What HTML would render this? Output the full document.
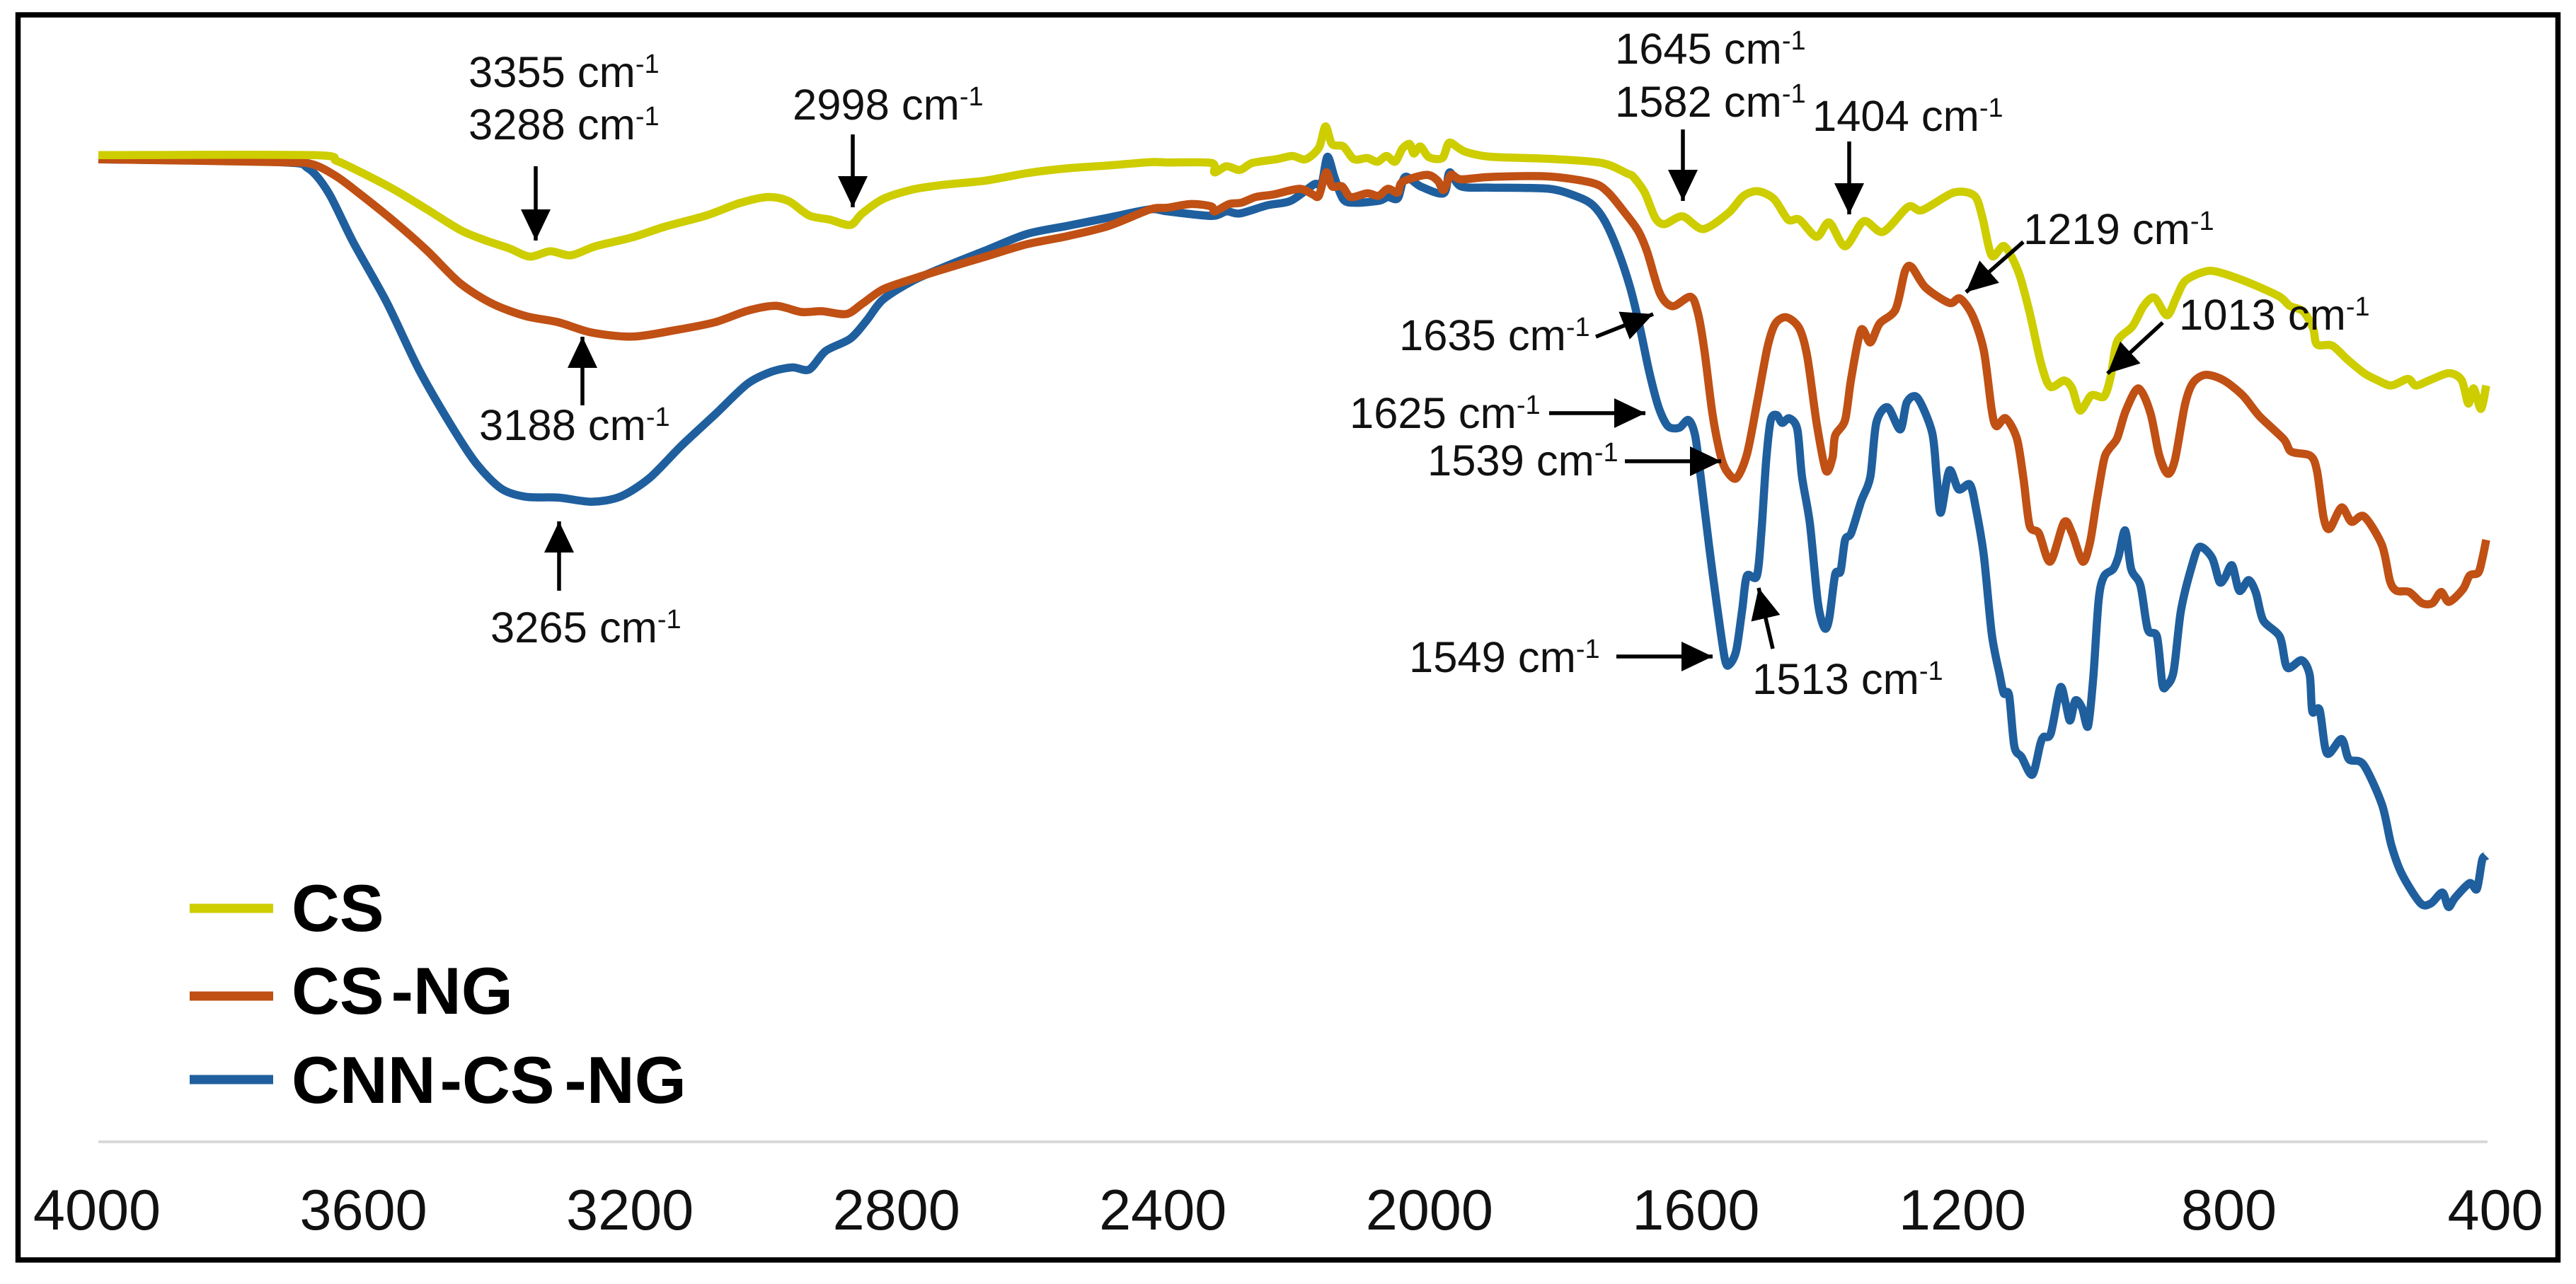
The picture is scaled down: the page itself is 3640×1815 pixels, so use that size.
<!DOCTYPE html>
<html lang="en">
<head>
<meta charset="utf-8">
<title>FTIR spectra of CS, CS-NG and CNN-CS-NG</title>
<style>
html,body{margin:0;padding:0;background:#fff;}
svg{display:block;}
text{font-family:"Liberation Sans",Arial,sans-serif;fill:#111;}
.ann{font-size:61.5px;}
.ann tspan.sup{font-size:38px;}
.tick{font-size:81px;text-anchor:middle;}
.leg{font-size:94px;font-weight:bold;fill:#000;}
.arrow{stroke:#000;stroke-width:5.5;fill:none;marker-end:url(#head);}
</style>
</head>
<body>
<svg id="chart" xmlns="http://www.w3.org/2000/svg" width="3640" height="1815" viewBox="0 0 3640 1815">
<defs>
<marker id="head" markerUnits="userSpaceOnUse" markerWidth="50" markerHeight="44" refX="44" refY="22" orient="auto">
<path d="M0,1 L44,22 L0,43 Z" fill="#000"/>
</marker>
</defs>
<rect x="0" y="0" width="3640" height="1815" fill="#fff"/>
<rect x="25.5" y="21" width="3589" height="1760" fill="none" stroke="#000" stroke-width="7.5"/>
<g id="axis-layer"></g>
<g id="series-layer"></g>

<g>
<g><text class="ann" x="662" y="123">3355 cm<tspan class="sup" dy="-20">-1</tspan></text></g>
<g><text class="ann" x="662" y="197">3288 cm<tspan class="sup" dy="-20">-1</tspan></text><line class="arrow" x1="757" y1="235" x2="757" y2="340"/></g>
<g><text class="ann" x="1120" y="169">2998 cm<tspan class="sup" dy="-20">-1</tspan></text><line class="arrow" x1="1205" y1="190" x2="1205" y2="293"/></g>
<g><text class="ann" x="677" y="622">3188 cm<tspan class="sup" dy="-20">-1</tspan></text><line class="arrow" x1="823" y1="573" x2="823" y2="476"/></g>
<g><text class="ann" x="693" y="908">3265 cm<tspan class="sup" dy="-20">-1</tspan></text><line class="arrow" x1="790" y1="835" x2="790" y2="737"/></g>
<g><text class="ann" x="2282" y="90">1645 cm<tspan class="sup" dy="-20">-1</tspan></text></g>
<g><text class="ann" x="2282" y="165">1582 cm<tspan class="sup" dy="-20">-1</tspan></text><line class="arrow" x1="2378" y1="183" x2="2378" y2="284"/></g>
<g><text class="ann" x="2561" y="185">1404 cm<tspan class="sup" dy="-20">-1</tspan></text><line class="arrow" x1="2613" y1="200" x2="2613" y2="303"/></g>
<g><text class="ann" x="2859" y="345">1219 cm<tspan class="sup" dy="-20">-1</tspan></text><line class="arrow" x1="2859" y1="342" x2="2778" y2="413"/></g>
<g><text class="ann" x="3079" y="466">1013 cm<tspan class="sup" dy="-20">-1</tspan></text><line class="arrow" x1="3056" y1="456" x2="2978" y2="528"/></g>
<g><text class="ann" x="1977" y="495">1635 cm<tspan class="sup" dy="-20">-1</tspan></text><line class="arrow" x1="2255" y1="476" x2="2336" y2="444"/></g>
<g><text class="ann" x="1907" y="605">1625 cm<tspan class="sup" dy="-20">-1</tspan></text><line class="arrow" x1="2189" y1="584" x2="2325" y2="584"/></g>
<g><text class="ann" x="2017" y="672">1539 cm<tspan class="sup" dy="-20">-1</tspan></text><line class="arrow" x1="2296" y1="652" x2="2432" y2="652"/></g>
<g><text class="ann" x="1991" y="950">1549 cm<tspan class="sup" dy="-20">-1</tspan></text><line class="arrow" x1="2284" y1="928" x2="2420" y2="928"/></g>
<g><text class="ann" x="2476" y="981">1513 cm<tspan class="sup" dy="-20">-1</tspan></text><line class="arrow" x1="2505" y1="917" x2="2485" y2="831"/></g>
</g>

<g>
<g>
<line x1="268" y1="1284" x2="386" y2="1284" stroke="#cdcd00" stroke-width="13"/>
<text class="leg" x="412" y="1316">CS</text>
</g>
<g>
<line x1="268" y1="1408" x2="386" y2="1408" stroke="#c05014" stroke-width="13"/>
<text class="leg" x="412" y="1433">CS<tspan dx="10">-NG</tspan></text>
</g>
<g>
<line x1="268" y1="1526" x2="386" y2="1526" stroke="#1f5f9e" stroke-width="13"/>
<text class="leg" x="412" y="1559">CNN<tspan dx="6">-CS</tspan><tspan dx="14">-NG</tspan></text>
</g>
</g>
</svg>

<script>
var tickValues = [4000, 3600, 3200, 2800, 2400, 2000, 1600, 1200, 800, 400];

var csWavenumbers = [
4000,3678,3641,3604,3554,3505,3455,3418,3381,3350,3319,3288,3251,3195,3146,3084,3034,2991,2960,2929,2898,2867,2849,2818,2774,2725,2663,2601,2539,2477,2415,
2389,2323,2318,2300,2280,2261,2225,2201,2181,2161,2151,2141,2124,2108,2088,2073,2059,2046,2035,2024,2018,2008,1995,1975,1965,1951,1938,1902,1814,1735,1696,
1687,1670,1654,1640,1613,1582,1544,1521,1499,1475,1454,1437,1411,1392,1368,1340,1311,1273,1252,1204,1173,1161,1147,1128,1107,1090,1073,1059,1038,
1026,1014,997,978,968,958,935,918,902,883,869,856,831,810,765,715,698,678,663,657,634,611,586,566,545,520,508,487,458,439,429,421,410,402];
var csValues = [
2403,2403,2389,2361,2319,2271,2221,2196,2176,2156,2169,2159,2181,2203,2229,2256,2286,2301,2291,2256,2246,2233,2261,2296,2319,2331,2341,2359,2371,2378,2386,
2385,2384,2361,2376,2367,2384,2393,2401,2393,2421,2473,2430,2424,2393,2396,2387,2401,2387,2419,2430,2407,2424,2398,2396,2433,2421,2410,2399,2394,2384,2358,
2350,2312,2250,2235,2254,2223,2262,2304,2315,2296,2246,2246,2204,2239,2181,2242,2216,2277,2269,2312,2304,2250,2158,2181,2119,2020,1897,1839,1854,
1835,1781,1818,1815,1862,1949,1986,2036,2056,2013,2056,2096,2117,2120,2096,2060,2036,2023,1982,1942,1939,1905,1872,1855,1842,1858,1842,1855,1872,1855,1798,1835,1785,1842];

var csNgWavenumbers = [
4000,3727,3678,3641,3604,3554,3505,3455,3406,3356,3307,3257,3195,3133,3071,3022,2979,2941,2910,2873,2849,2818,2774,2725,2663,2601,2539,2477,2415,
2389,2353,2323,2318,2296,2278,2256,2230,2190,2170,2161,2150,2141,2126,2113,2088,2071,2057,2042,2035,1999,1982,1973,1962,1947,1902,1814,1748,
1725,1701,1680,1666,1647,1628,1601,1590,1580,1568,1556,1547,1532,1516,1501,1485,1473,1456,1437,1425,1411,1397,1387,1383,1368,1359,1344,1330,1316,1292,1278,1268,1247,1211,1195,1176,1159,1147,1140,1126,1109,1099,1090,1076,1059,1038,1026,
1010,999,989,978,970,958,945,926,908,895,882,871,856,844,825,798,769,744,707,696,667,657,647,638,620,605,586,559,547,537,518,499,483,470,458,437,427,414,408,402];
var csNgValues = [
2393,2386,2381,2351,2306,2241,2171,2091,2041,2011,1996,1971,1961,1976,1996,2024,2036,2021,2023,2016,2041,2076,2101,2126,2156,2186,2206,2231,2271,
2275,2284,2278,2266,2284,2287,2301,2307,2321,2307,2304,2361,2327,2327,2301,2310,2304,2321,2312,2338,2355,2341,2318,2355,2344,2350,2351,2335,
2312,2265,2219,2166,2066,2035,2058,2020,1927,1774,1674,1635,1616,1674,1797,1935,1993,2008,1981,1912,1751,1635,1666,1720,1758,1858,1977,1947,1993,2027,2119,2131,2081,2043,2054,2012,1927,1781,1743,1762,1712,1612,1501,1482,1413,1509,1482,
1413,1460,1560,1661,1688,1714,1781,1835,1775,1674,1627,1661,1795,1848,1868,1855,1818,1768,1711,1681,1671,1634,1520,1493,1545,1510,1523,1453,1366,1342,1339,1312,1312,1339,1315,1346,1379,1386,1419,1466];

var cnnCsNgWavenumbers = [
4000,3727,3684,3653,3616,3566,3517,3467,3430,3393,3356,3307,3257,3214,3170,3121,3071,3022,2985,2954,2929,2904,2867,2842,2818,2774,2725,2663,2601,2539,2477,2415,
2389,2323,2300,2280,2238,2203,2168,2157,2148,2137,2124,2106,2070,2057,2042,2031,2008,1973,1964,1947,1902,1814,1770,1748,
1730,1711,1692,1678,1663,1649,1635,1618,1604,1594,1585,1573,1561,1549,1542,1532,1523,1516,1501,1494,1487,1480,1471,1463,1452,1440,1433,1421,1409,1399,1392,1383,1375,1368,1359,1344,1330,1321,1304,1285,1275,1259,1237,1230,1224,1211,1197,1180,1171,1159,1147,
1135,1129,1121,1113,1102,1086,1074,1069,1058,1044,1036,1029,1021,1011,1002,994,986,978,964,956,946,937,923,912,898,890,884,873,862,846,834,815,804,796,785,774,760,749,738,713,702,680,668,664,653,642,620,609,587,559,545,529,501,485,468,459,449,427,416,408,402];
var cnnCsNgValues = [
2393,2386,2371,2311,2191,2046,1881,1741,1651,1591,1571,1569,1559,1571,1616,1696,1771,1846,1876,1886,1881,1926,1956,2001,2051,2096,2131,2171,2211,2231,2251,2271,
2266,2255,2266,2261,2281,2292,2332,2332,2399,2347,2295,2287,2292,2301,2298,2350,2327,2310,2361,2327,2324,2321,2301,2281,
2242,2173,2081,1989,1874,1789,1743,1739,1758,1720,1612,1451,1305,1174,1163,1197,1297,1378,1378,1489,1658,1758,1770,1751,1762,1735,1620,1505,1313,1251,1274,1382,1389,1466,1482,1559,1620,1751,1789,1735,1801,1812,1728,1620,1532,1635,1589,1601,1543,1428,1236,
1137,1092,1088,963,937,894,968,986,995,1106,1070,1026,1075,1057,1012,1133,1320,1377,1395,1426,1489,1395,1355,1248,1230,1115,1110,1146,1293,1400,1449,1422,1364,1373,1404,1342,1368,1337,1270,1230,1155,1173,1137,1048,1052,946,981,932,919,821,723,652,581,581,607,572,594,630,616,687,696];

var svgNS = 'http://www.w3.org/2000/svg';
var plotLeft = 139, plotRight = 3515, axisY = 1614;

function xScale(w) {
  return plotLeft + (4000 - w) * (plotRight - plotLeft) / 3600;
}
function yScale(v) {
  return axisY - v * 0.5804;
}
function tickLabelX(w) {
  return 137 + (4000 - w) * 0.9414;
}
function drawSeries(wavenumbers, values, color) {
  var px = wavenumbers.map(xScale);
  var py = values.map(yScale);
  var n = px.length;
  var k = 1 / 7;
  var d = 'M' + px[0].toFixed(1) + ',' + py[0].toFixed(1);
  for (var i = 0; i < n - 1; i++) {
    var p0 = Math.max(i - 1, 0), p2 = i + 1, p3 = Math.min(i + 2, n - 1);
    var c1x = px[i] + (px[p2] - px[p0]) * k;
    var c1y = py[i] + (py[p2] - py[p0]) * k;
    var c2x = px[p2] - (px[p3] - px[i]) * k;
    var c2y = py[p2] - (py[p3] - py[i]) * k;
    d += ' C' + c1x.toFixed(1) + ',' + c1y.toFixed(1) + ' ' + c2x.toFixed(1) + ',' + c2y.toFixed(1) + ' ' + px[p2].toFixed(1) + ',' + py[p2].toFixed(1);
  }
  var line = document.createElementNS(svgNS, 'path');
  line.setAttribute('d', d);
  line.setAttribute('fill', 'none');
  line.setAttribute('stroke', color);
  line.setAttribute('stroke-width', '11.5');
  line.setAttribute('stroke-linejoin', 'round');
  line.setAttribute('stroke-linecap', 'butt');
  document.getElementById('series-layer').appendChild(line);
  return line;
}

var axisLayer = document.getElementById('axis-layer');
var axisLine = document.createElementNS(svgNS, 'line');


axisLine.setAttribute('x1', xScale(4000));
axisLine.setAttribute('x2', xScale(400));
axisLine.setAttribute('y1', axisY);
axisLine.setAttribute('y2', axisY);
axisLine.setAttribute('stroke', '#d9d9d9');
axisLine.setAttribute('stroke-width', '4');
axisLayer.appendChild(axisLine);

tickValues.forEach(function (t) {
  var label = document.createElementNS(svgNS, 'text');
  
  
  label.setAttribute('class', 'tick');
  label.setAttribute('x', tickLabelX(t));
  label.setAttribute('y', 1738);
  label.textContent = String(t);
  axisLayer.appendChild(label);
});

var blueLine = drawSeries(cnnCsNgWavenumbers, cnnCsNgValues, '#1f5f9e');


var orangeLine = drawSeries(csNgWavenumbers, csNgValues, '#c05014');


var yellowLine = drawSeries(csWavenumbers, csValues, '#cdcd00');


</script>
</body>
</html>
